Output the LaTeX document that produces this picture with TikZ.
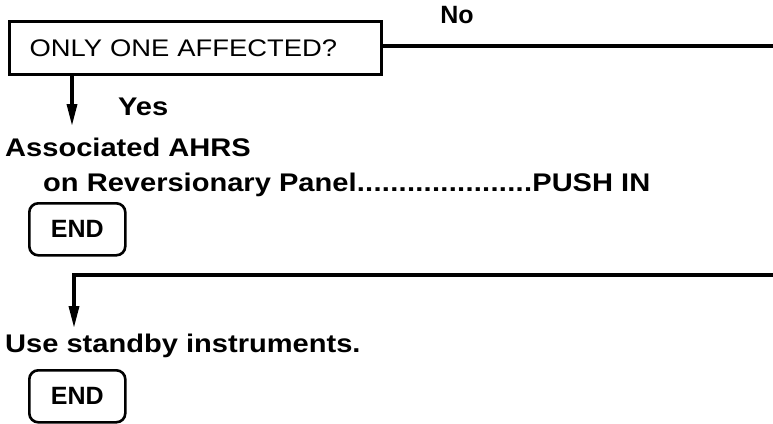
\documentclass[tikz,border=0pt]{standalone}
\usepackage{fontspec}
\setmainfont{Liberation Sans}
\newfontfamily\widefont{Liberation Sans}[FakeStretch=1.14]
\usetikzlibrary{arrows.meta, positioning}
\tikzset{
  qbox/.style={rectangle, draw=black, line width=3.4pt, text width=332pt,
    inner xsep=20pt, minimum height=53pt, align=left,
    font=\widefont\fontsize{24}{28}\selectfont},
  endbox/.style={rectangle, draw=black, line width=2.6pt, rounded corners=9pt,
    minimum width=96pt, minimum height=52pt,
    font=\fontsize{25}{30}\selectfont\bfseries},
  txt/.style={inner sep=0pt, font=\widefont\fontsize{25.5}{30}\selectfont\bfseries},
  lbl/.style={inner sep=0pt, font=\fontsize{25}{30}\selectfont\bfseries},
  arrow/.style={-{Triangle[width=10pt, length=22pt]}, line width=3.4pt},
  line/.style={line width=3.4pt}
}
\begin{document}
\begin{tikzpicture}[x=1pt, y=-1pt]
  \useasboundingbox (0,0) rectangle (773,423);

  % Nodes
  \node[qbox, anchor=north west] (query) at (8,20) {ONLY ONE AFFECTED?};
  \node[lbl] (no) at (457,15) {No};
  \node[txt, anchor=base west] (yes) at (118,115) {Yes};
  \node[txt, anchor=base west] (ahrs) at (5,156) {Associated AHRS};
  \node[txt, anchor=base west] (push) at (43,191)
    {\hbox to 607pt{on Reversionary Panel\xleaders\hbox{.}\hfill PUSH IN}};
  \node[endbox, anchor=north west] (end1) at (28,202) {END};
  \node[txt, anchor=base west] (standby) at (5,352) {Use standby instruments.};
  \node[endbox, anchor=north west] (end2) at (28,369) {END};

  \coordinate (noout) at (773,46);
  \coordinate (noin) at (773,275);
  \coordinate (yestip) at (72,126);
  \coordinate (sbtip) at (74,328);

  % Arrows
  \draw[line] (query.east |- noout) -- (noout);
  \draw[arrow] (query.south -| yestip) -- (yestip);
  \draw[arrow] (noin) -| (sbtip);

\end{tikzpicture}
\end{document}
